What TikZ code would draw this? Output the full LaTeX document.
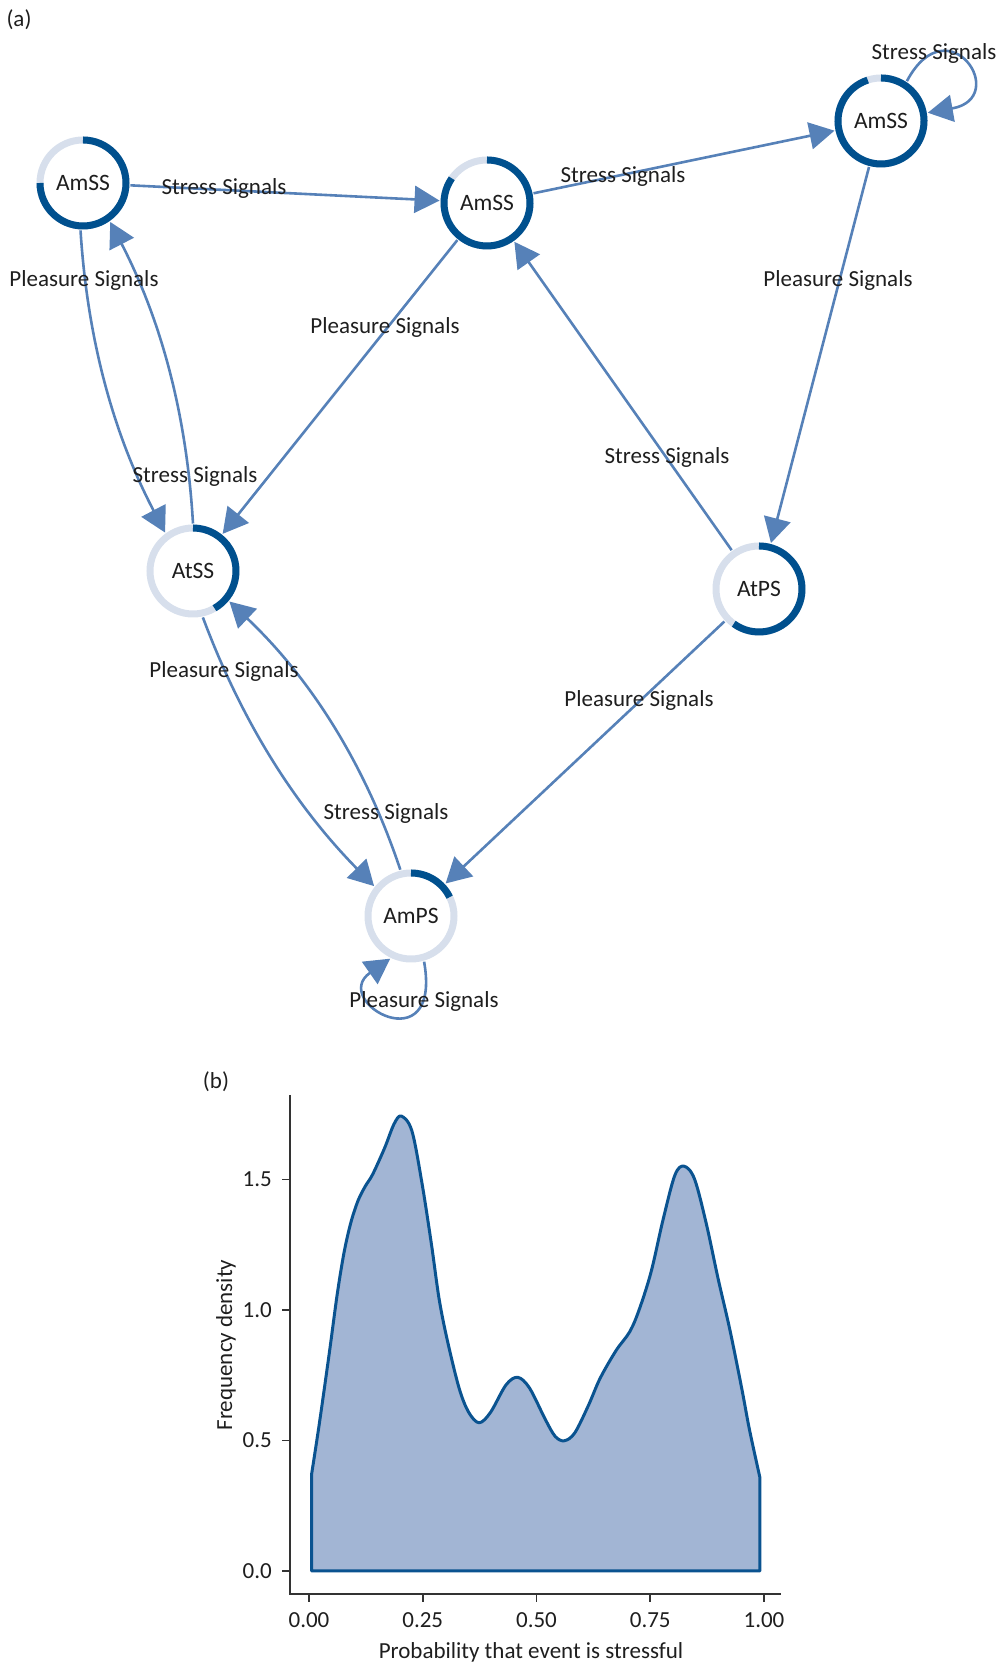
\documentclass[tikz,border=0pt]{standalone}
\usepackage{fontspec}
\setmainfont{Carlito}
\usetikzlibrary{arrows.meta}
\definecolor{ringdark}{HTML}{00508E}
\definecolor{ringlight}{HTML}{D7DFEC}
\definecolor{edgeblue}{HTML}{5681B8}
\definecolor{densfill}{HTML}{A2B5D4}
\definecolor{densline}{HTML}{0A5390}
\definecolor{txtcol}{HTML}{1E1E1E}
\definecolor{axiscol}{HTML}{333333}
\begin{document}
\begin{tikzpicture}[x=1pt,y=1pt,
  state/.style={circle, minimum size=86pt, inner sep=0pt, outer sep=4.5pt, draw=ringlight, line width=7pt, text=txtcol, font=\fontsize{23.5}{27}\selectfont},
  darkarc/.style={draw=ringdark, line width=7pt},
  conn/.style={draw=edgeblue, line width=2.6pt, -{Triangle[length=25pt,width=27pt]}},
  lbl/.style={anchor=base, inner sep=0pt, text=txtcol, font=\fontsize{23}{27}\selectfont},
  axisline/.style={draw=axiscol, line width=1.6pt},
]
\useasboundingbox (0,0) rectangle (1000,1665);

% states
\node[state] (n1) at (83,1482) {AmSS};
\node[state] (n2) at (487,1462) {AmSS};
\node[state] (n3) at (881,1544) {AmSS};
\node[state] (n4) at (193,1094) {AtSS};
\node[state] (n5) at (759,1076) {AtPS};
\node[state] (n6) at (411,749) {AmPS};

% dark parts of the rings
\draw[darkarc] ([shift={(180:43pt)}]n1.center) arc[start angle=180, end angle=450, radius=43pt];
\draw[darkarc] ([shift={(145:43pt)}]n2.center) arc[start angle=145, end angle=450, radius=43pt];
\draw[darkarc] ([shift={(108:43pt)}]n3.center) arc[start angle=108, end angle=450, radius=43pt];
\draw[darkarc] ([shift={(-60:43pt)}]n4.center) arc[start angle=-60, end angle=90, radius=43pt];
\draw[darkarc] ([shift={(-126:43pt)}]n5.center) arc[start angle=-126, end angle=90, radius=43pt];
\draw[darkarc] ([shift={(26:43pt)}]n6.center) arc[start angle=26, end angle=90, radius=43pt];

% connectors
\draw[conn] (n1) -- (n2);
\draw[conn] (n2) -- (n3);
\draw[conn] (n3.57) .. controls +(62:88pt) and +(10:85pt) .. (n3.10);
\draw[conn] (n1.-93) to[bend right=12, looseness=0.9] (n4.126);
\draw[conn] (n4.90) to[bend right=12, looseness=0.9] (n1.-55);
\draw[conn] (n2) -- (n4);
\draw[conn] (n3) -- (n5);
\draw[conn] (n5) -- (n2);
\draw[conn] (n4.-78) to[bend right=12, looseness=0.9] (n6.141);
\draw[conn] (n6.103) to[bend right=14, looseness=0.9] (n4.-40);
\draw[conn] (n5) -- (n6);
\draw[conn] (n6.-74) .. controls +(-80:105pt) and +(-145:75pt) .. (n6.-116);

% edge labels
\node[lbl] (l12) at (224,1470.5) {Stress Signals};
\node[lbl] (l23) at (623,1482.5) {Stress Signals};
\node[lbl] (l33) at (934,1605) {Stress Signals};
\node[lbl] (l14) at (84,1378.5) {Pleasure Signals};
\node[lbl] (l24) at (385,1331.5) {Pleasure Signals};
\node[lbl] (l35) at (838,1378.5) {Pleasure Signals};
\node[lbl] (l41) at (195,1182.5) {Stress Signals};
\node[lbl] (l52) at (667,1201.5) {Stress Signals};
\node[lbl] (l46) at (224,987) {Pleasure Signals};
\node[lbl] (l56) at (639,958.5) {Pleasure Signals};
\node[lbl] (l64) at (386,845) {Stress Signals};
\node[lbl] (l66) at (424,657) {Pleasure Signals};
\node[lbl] (pa) at (19,1638) {(a)};
\node[lbl] (pb) at (216,576) {(b)};

% density plot
\begin{scope}[shift={(309pt,94pt)}, x=455pt, y=261pt]
\filldraw[fill=densfill, draw=densline, line width=3pt, line join=round]
  (0.006,0) -- plot[smooth, tension=0.55] coordinates {
  (0.006,0.374) (0.023,0.568) (0.045,0.84) (0.062,1.06) (0.077,1.22)
  (0.092,1.335) (0.108,1.42) (0.124,1.475) (0.14,1.52) (0.166,1.62) (0.187,1.713) (0.203,1.743)
  (0.226,1.687) (0.248,1.489) (0.269,1.253) (0.286,1.042) (0.304,0.884)
  (0.33,0.70) (0.351,0.608) (0.374,0.568) (0.399,0.608) (0.433,0.713)
  (0.459,0.742) (0.485,0.70) (0.519,0.582) (0.541,0.516) (0.561,0.499)
  (0.584,0.529) (0.614,0.634) (0.640,0.739) (0.675,0.845) (0.705,0.917)
  (0.726,1.003) (0.752,1.147) (0.778,1.345) (0.804,1.516) (0.824,1.551)
  (0.847,1.503) (0.873,1.332) (0.899,1.121) (0.925,0.924) (0.951,0.70)
  (0.968,0.542) (0.991,0.358)} -- (0.991,0) -- cycle;
\end{scope}

% axes
\draw[axisline] (290,570) -- (290,71) -- (781,71);
\foreach \v/\lab/\nm in {94/0.0/y0, 224.5/0.5/y1, 355/1.0/y2, 485.5/1.5/y3} {
  \draw[axisline] (290,\v) -- (282,\v);
  \node[anchor=east, inner sep=0pt, text=txtcol, font=\fontsize{23}{27}\selectfont] (\nm) at (272,\v) {\lab};
}
\foreach \u/\lab/\nm in {309/0.00/x0, 422.75/0.25/x1, 536.5/0.50/x2, 650.25/0.75/x3, 764/1.00/x4} {
  \draw[axisline] (\u,71) -- (\u,63);
  \node[lbl] (\nm) at (\u,37) {\lab};
}
\node[lbl, rotate=90] (ylab) at (232,320) {Frequency density};
\node[lbl] (xlab) at (531,6) {Probability that event is stressful};
\end{tikzpicture}
\end{document}
